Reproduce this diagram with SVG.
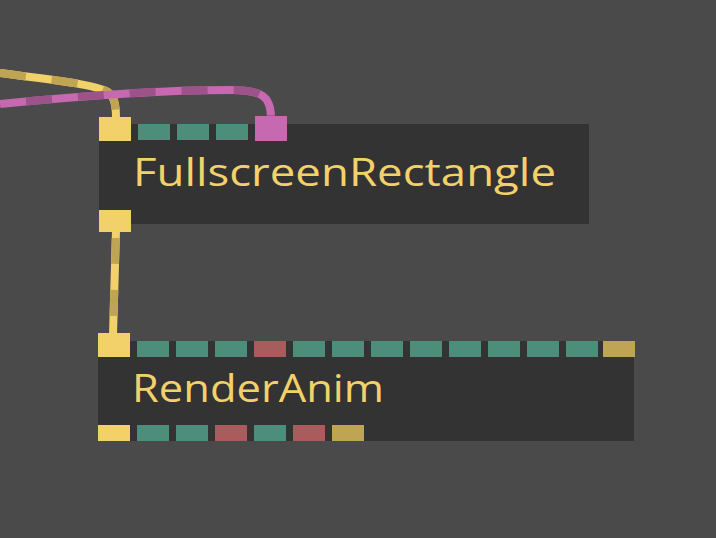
<svg xmlns="http://www.w3.org/2000/svg" width="716" height="538" viewBox="0 0 716 538">
<style>
.body{fill:#333333}
.t{font-family:"Open Sans","Noto Sans",sans-serif;font-size:39px;fill:#f2d16b}
.y{fill:#f2d16b}.g{fill:#4d8e7b}.r{fill:#a85c5c}.o{fill:#bfa553}.p{fill:#c769b0}
.wy{fill:none;stroke:#f2d16b;stroke-width:8}
.dy{fill:none;stroke:#bfa553;stroke-width:8;stroke-dasharray:26 26}
.wp{fill:none;stroke:#c769b0;stroke-width:8}
.dp{fill:none;stroke:#9b5389;stroke-width:8;stroke-dasharray:26 26}
</style>
<rect width="716" height="538" fill="#4a4a4a"/>
<g id="connectors">
<path class="wy" d="M0,73 C50,80 95,84 108,92 C114,96 116,104 116,118"/>
<path class="dy" d="M0,73 C50,80 95,84 108,92 C114,96 116,104 116,118"/>
<path class="wp" d="M0,104 C90,95 160,90 230,90 C262,90 271,96 271,118"/>
<path class="dp" d="M0,104 C90,95 160,90 230,90 C262,90 271,96 271,118" stroke-dashoffset="26"/>
<path class="wy" d="M116,230 L113,335"/>
<path class="dy" d="M116,230 L113,335" stroke-dashoffset="-8"/>
</g>
<g id="FullscreenRectangle">
<rect class="body" x="99" y="124" width="490" height="100"/>
<rect class="y" x="99" y="117" width="32" height="24"/>
<rect class="g" x="138" y="124" width="32" height="16"/>
<rect class="g" x="177" y="124" width="32" height="16"/>
<rect class="g" x="216" y="124" width="32" height="16"/>
<rect class="p" x="255" y="116" width="32" height="25"/>
<rect class="y" x="99" y="210" width="32" height="22"/>
<text class="t" x="133" y="186" textLength="423" lengthAdjust="spacingAndGlyphs">FullscreenRectangle</text>
</g>
<g id="RenderAnim">
<rect class="body" x="98" y="341" width="536" height="100"/>
<rect class="y" x="98" y="333" width="32" height="24"/>
<rect class="g" x="137" y="341" width="32" height="16"/>
<rect class="g" x="176" y="341" width="32" height="16"/>
<rect class="g" x="215" y="341" width="32" height="16"/>
<rect class="r" x="254" y="341" width="32" height="16"/>
<rect class="g" x="293" y="341" width="32" height="16"/>
<rect class="g" x="332" y="341" width="32" height="16"/>
<rect class="g" x="371" y="341" width="32" height="16"/>
<rect class="g" x="410" y="341" width="32" height="16"/>
<rect class="g" x="449" y="341" width="32" height="16"/>
<rect class="g" x="488" y="341" width="32" height="16"/>
<rect class="g" x="527" y="341" width="32" height="16"/>
<rect class="g" x="566" y="341" width="32" height="16"/>
<rect class="o" x="603" y="341" width="32" height="16"/>
<rect class="y" x="98" y="425" width="32" height="16"/>
<rect class="g" x="137" y="425" width="32" height="16"/>
<rect class="g" x="176" y="425" width="32" height="16"/>
<rect class="r" x="215" y="425" width="32" height="16"/>
<rect class="g" x="254" y="425" width="32" height="16"/>
<rect class="r" x="293" y="425" width="32" height="16"/>
<rect class="o" x="332" y="425" width="32" height="16"/>
<text class="t" x="132" y="402" textLength="252" lengthAdjust="spacingAndGlyphs">RenderAnim</text>
</g>
</svg>
